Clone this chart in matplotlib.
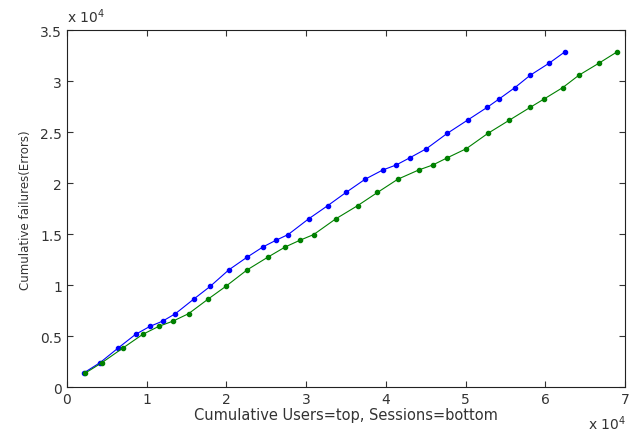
import matplotlib
matplotlib.use("Agg")
import matplotlib.pyplot as plt
import numpy as np
from matplotlib.ticker import FuncFormatter

plt.rcParams['font.family'] = ['DejaVu Sans']

# Cumulative failures (shared by both series), in units
failures = [1370, 2400, 3820, 5170, 5950, 6470, 7200, 8630, 9870, 11500,
            12750, 13760, 14400, 14970, 16500, 17800, 19100, 20400, 21300, 21800,
            22500, 23400, 24900, 26200, 27450, 28300, 29400, 30600, 31800, 32900]

# Cumulative users (top curve)
users = [2080, 4160, 6400, 8600, 10400, 12000, 13600, 15900, 17950, 20300,
         22600, 24600, 26200, 27750, 30300, 32700, 35000, 37400, 39600, 41300,
         43000, 45100, 47700, 50250, 52700, 54250, 56200, 58100, 60500, 62450]

# Cumulative sessions (bottom curve)
sessions = [2300, 4400, 7000, 9500, 11500, 13300, 15250, 17700, 19900, 22600,
            25200, 27400, 29200, 30950, 33700, 36450, 38950, 41500, 44100, 45900,
            47700, 50100, 52800, 55500, 58100, 59900, 62200, 64200, 66750, 69000]

xticks = np.arange(0, 70001, 10000)
yticks = np.arange(0, 35001, 5000)

fig = plt.figure(figsize=(6.38, 4.35), dpi=100)
ax = fig.add_axes([0.105, 0.108, 0.8746, 0.8196])

ax.plot(users, failures, color='#0000ff', lw=0.8, marker='.', ms=6)
ax.plot(sessions, failures, color='#008000', lw=0.8, marker='.', ms=6)

ax.set_xlim(0, 70000)
ax.set_ylim(0, 35000)
ax.set_xticks(xticks)
ax.set_yticks(yticks)
fmt = FuncFormatter(lambda v, p: ('%g' % (v / 1e4)))
ax.xaxis.set_major_formatter(fmt)
ax.yaxis.set_major_formatter(fmt)
ax.tick_params(direction='in', top=True, right=True, length=4, width=0.8,
               labelsize=10, colors='#333333', labelcolor='#333333', pad=3.5)
for s in ax.spines.values():
    s.set_linewidth(0.8)
    s.set_color('#222222')

ax.set_xlabel('Cumulative Users=top, Sessions=bottom', fontsize=10.5, color='#333333', labelpad=1)
ax.set_ylabel('Cumulative failures(Errors)', fontsize=8.5, color='#333333', labelpad=6)

fig.text(67 / 638, 1 - 17 / 435, r'x 10$^4$', fontsize=10, color='#333333',
         ha='left', va='center')
fig.text(626 / 638, 1 - 424 / 435, r'x 10$^4$', fontsize=10, color='#333333',
         ha='right', va='center')

fig.savefig('out.png', dpi=100)
